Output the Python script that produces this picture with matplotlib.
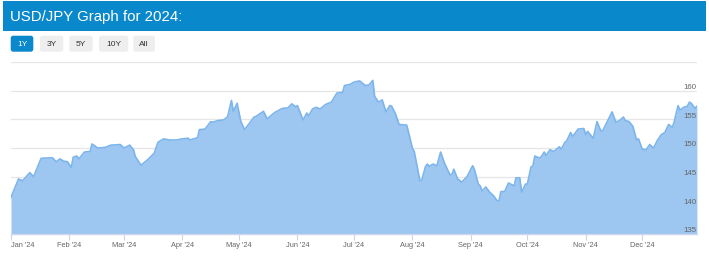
import matplotlib
matplotlib.use('Agg')
import matplotlib.pyplot as plt
from matplotlib.patches import FancyBboxPatch, Rectangle
import matplotlib.transforms as mtransforms
import pandas as pd

plt.rcParams['font.family'] = ['Liberation Sans', 'DejaVu Sans']

# ---------------- data ----------------
title = "USD/JPY Graph for 2024:"
range_buttons = ["1Y", "3Y", "5Y", "10Y", "All"]
active_button = "1Y"

# days since 2024-01-01
day_offsets = [0, 4, 6, 7, 10, 12, 16, 22, 24, 26, 28, 30, 32, 33, 35, 36, 39, 42, 43, 46,
               50, 53, 58, 60, 63, 65, 66, 69, 72, 73, 76, 78, 81, 84, 88, 91, 94, 95, 99,
               100, 103, 106, 107, 110, 113, 115, 117, 118, 120, 122, 124, 129, 130, 134,
               136, 140, 144, 147, 149, 151, 152, 155, 157, 158, 160, 162, 164, 167, 170,
               173, 176, 177, 180, 182, 185, 188, 190, 192, 193, 195, 197, 199, 201, 202,
               204, 206, 210, 211, 213, 214, 217, 218, 220, 221, 222, 224, 226, 228, 230,
               233, 234, 235, 237, 238, 239, 242, 245, 246, 248, 249, 250, 252, 254, 256,
               258, 259, 260, 262, 264, 267, 268, 270, 271, 273, 274, 276, 277, 278, 280,
               281, 283, 284, 286, 288, 291, 292, 294, 295, 297, 298, 301, 304, 305, 306,
               309, 311, 313, 314, 319, 321, 323, 325, 326, 328, 330, 332, 333, 335, 337,
               339, 341, 343, 345, 347, 349, 351, 352, 354, 355, 357, 359, 360, 361, 363, 364]
usd_jpy = [141.4, 144.6, 144.3, 144.6, 145.7, 145.0, 148.2, 148.3, 147.6, 148.1, 147.7, 147.6,
           146.6, 148.4, 148.6, 148.1, 149.3, 149.4, 150.7, 150.0, 150.1, 150.5, 150.6, 150.0,
           150.5, 149.7, 148.5, 147.0, 147.8, 148.1, 149.1, 151.0, 151.6, 151.4, 151.4, 151.6,
           151.7, 151.4, 151.8, 153.2, 153.3, 154.6, 154.5, 154.8, 154.9, 155.5, 158.3, 156.4,
           157.8, 154.6, 153.2, 155.4, 155.5, 156.4, 155.1, 156.2, 156.9, 157.0, 157.7, 157.2,
           157.4, 154.9, 156.1, 155.6, 156.8, 157.1, 156.8, 157.6, 158.0, 159.6, 159.7, 160.9,
           161.1, 161.5, 161.7, 160.9, 161.0, 161.8, 159.0, 158.0, 158.4, 156.3, 157.4, 157.3,
           156.0, 154.1, 154.0, 152.7, 150.0, 149.4, 144.3, 144.4, 146.8, 147.2, 146.8, 147.2,
           146.9, 149.3, 147.4, 145.3, 145.4, 146.3, 144.6, 144.4, 144.0, 145.0, 146.9, 146.2,
           143.7, 143.4, 142.5, 143.2, 142.3, 141.7, 140.8, 140.8, 142.4, 142.4, 143.9, 143.4,
           144.8, 144.8, 142.3, 143.7, 143.7, 146.7, 146.9, 148.6, 148.3, 148.3, 149.3, 148.7,
           149.7, 149.4, 150.2, 149.8, 151.0, 151.3, 152.7, 152.0, 153.3, 153.4, 152.3, 152.9,
           151.7, 154.6, 153.0, 153.0, 156.3, 154.5, 154.8, 155.4, 154.8, 154.6, 153.8, 151.4,
           151.6, 149.8, 149.7, 150.6, 150.0, 151.3, 152.3, 152.7, 154.1, 153.6, 154.6, 157.4,
           156.6, 157.1, 157.3, 158.0, 157.8, 156.9, 157.3]
month_labels = ["Jan '24", "Feb '24", "Mar '24", "Apr '24", "May '24", "Jun '24",
                "Jul '24", "Aug '24", "Sep '24", "Oct '24", "Nov '24", "Dec '24"]
y_grid = [135, 140, 145, 150, 155, 160, 165]
y_labels = [135, 140, 145, 150, 155, 160]

# ---------------- layout ----------------
W, H = 709, 261
BLUE = '#0a88cc'
fig = plt.figure(figsize=(W / 100, H / 100), dpi=100)

bg = fig.add_axes([0, 0, 1, 1])
bg.set_xlim(0, W)
bg.set_ylim(H, 0)
bg.axis('off')
bg.add_patch(Rectangle((3, 1), 703, 30, color=BLUE, lw=0))
bg.text(10.5, 16.5, title, color='white', fontsize=10.8, va='center', ha='left')

btn_x = [10.7, 40, 69.3, 99, 133.3]
btn_w = [22.6, 23.3, 23.4, 29.3, 21.7]
for lab, x0, w in zip(range_buttons, btn_x, btn_w):
    active = lab == active_button
    bg.add_patch(FancyBboxPatch((x0 + 1.5, 37.2), w - 3, 13,
                                boxstyle="round,pad=1.5,rounding_size=2.5",
                                fc=BLUE if active else '#eeeeee', ec='none'))
    bg.text(x0 + w / 2, 44, lab, fontsize=6, ha='center', va='center',
            color='white' if active else '#333333')

left, right, top, bottom = 11, 696.7, 62, 234
ax = fig.add_axes([left / W, 1 - bottom / H, (right - left) / W, (bottom - top) / H])
ax.patch.set_alpha(0)
ax.fill_between(day_offsets, usd_jpy, 130, color='#9dc6f0', lw=0, zorder=2)
ax.plot(day_offsets, usd_jpy, color='#7cb5ec', lw=1.2, zorder=3)
ax.set_xlim(0, 363.9)
ax.set_ylim(135, 165)

ax.set_yticks(y_grid)
ax.yaxis.grid(True, color='#e6e6e6', lw=0.9)
ax.set_axisbelow(True)
ax.tick_params(axis='y', length=0, labelleft=False)

for s in ['left', 'right', 'top']:
    ax.spines[s].set_visible(False)
ax.spines['bottom'].set_color('#ccd6eb')
ax.spines['bottom'].set_linewidth(1)
ax.spines['bottom'].set_zorder(4)

month_starts = pd.date_range('2024-01-01', periods=12, freq='MS')
tick_pos = list(month_starts.dayofyear - 1)
ax.set_xticks(tick_pos)
ax.set_xticklabels(month_labels)
ax.tick_params(axis='x', direction='out', length=4.5, width=0.8, color='#ccd6eb',
               labelsize=5.3, labelcolor='#666666', pad=1.5)
ax.get_xticklabels()[0].set_horizontalalignment('left')

blend = mtransforms.blended_transform_factory(ax.transAxes, ax.transData)
ytrans = mtransforms.offset_copy(blend, fig=fig, x=0, y=3.2, units='dots')
for v in y_labels:
    ax.text(1.0, v, str(v), transform=ytrans, ha='right', va='center',
            fontsize=5.7, color='#666666', zorder=5)

fig.savefig('out.png', dpi=100)
